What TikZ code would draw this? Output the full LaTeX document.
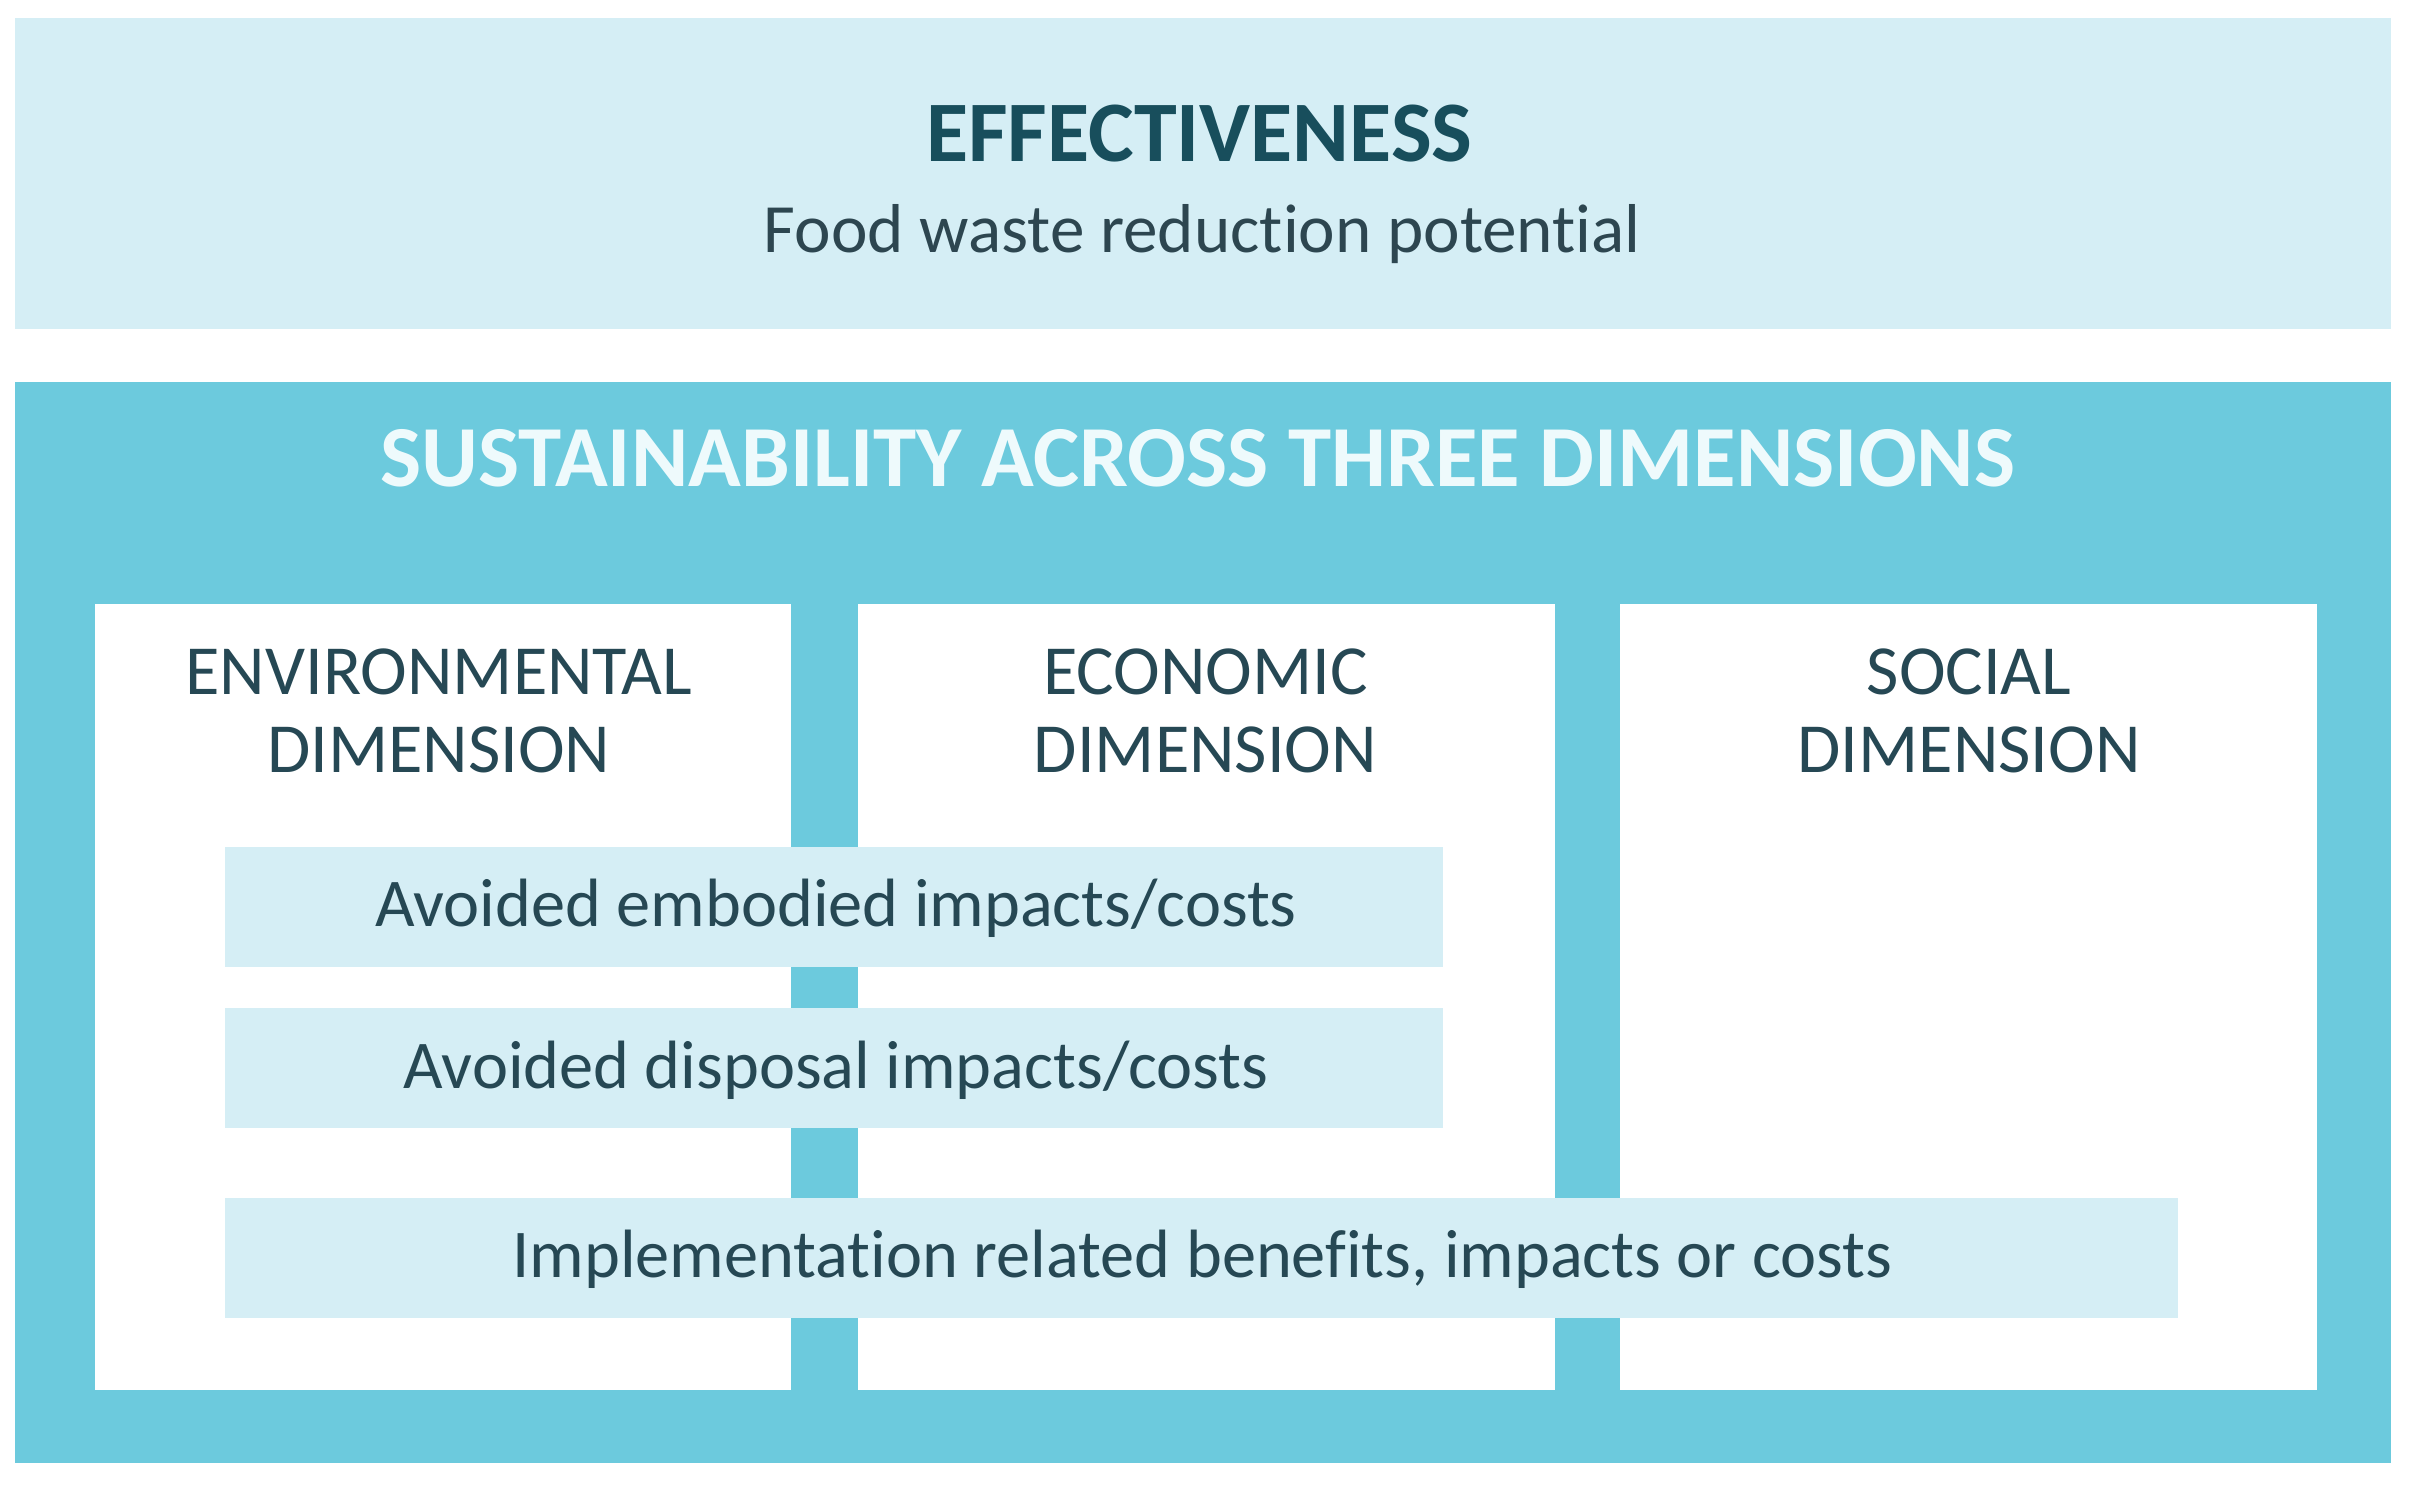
\documentclass[tikz,border=0pt]{standalone}
\usepackage{fontspec}
\setmainfont{Carlito}[Ligatures=NoCommon]
\begin{document}
\begin{tikzpicture}[x=0.75pt,y=0.75pt,yscale=-1,xscale=1,
  pale/.style={fill={rgb, 255:red, 213; green, 238; blue, 245 }},
  dimtext/.style={anchor=center,inner sep=0.75pt,align=center,font=\fontsize{34.3}{38}\selectfont,color={rgb, 255:red, 38; green, 72; blue, 84 }},
  boxtext/.style={anchor=center,inner sep=0.75pt,font=\fontsize{33.3}{38}\selectfont,color={rgb, 255:red, 38; green, 72; blue, 84 }}]
\useasboundingbox (0,0) rectangle (1568,968);

%Shape: Rectangle [id:top]
\fill [pale] (10,12) rectangle (1553,214) ;
%Shape: Rectangle [id:outer]
\fill [color={rgb, 255:red, 108; green, 202; blue, 221 }] (10,248) rectangle (1553,950) ;
%Shape: Rectangle [id:cols]
\fill [white] (62,392) rectangle (514,903) ;
\fill [white] (557,392) rectangle (1010,903) ;
\fill [white] (1052,392) rectangle (1505,903) ;
%Shape: Rectangle [id:bars]
\fill [pale] (146,550) rectangle (937,628) ;
\fill [pale] (146,655) rectangle (937,733) ;
\fill [pale] (146,778) rectangle (1415,856) ;

% Text Node
\draw (779,105) node [anchor=base][inner sep=0.75pt] [font=\bfseries\fontsize{42}{50}\selectfont,color={rgb, 255:red, 24; green, 78; blue, 92 }] (effect) {EFFECTIVENESS};
% Text Node
\draw (781,164) node [anchor=base][inner sep=0.75pt] [font=\fontsize{33.7}{38}\selectfont,color={rgb, 255:red, 45; green, 70; blue, 80 }] (potential) {Food waste reduction potential};
% Text Node
\draw (778,316) node [anchor=base][inner sep=0.75pt] [font=\bfseries\fontsize{42.4}{50}\selectfont,color={rgb, 255:red, 238; green, 250; blue, 252 }] (sustain) {SUSTAINABILITY ACROSS THREE DIMENSIONS};
% Text Node
\draw (285,462) node [dimtext] (env) {ENVIRONMENTAL\\DIMENSION};
% Text Node
\draw (783,462) node [dimtext] (eco) {ECONOMIC\\DIMENSION};
% Text Node
\draw (1279,462) node [dimtext] (soc) {SOCIAL\\DIMENSION};
% Text Node
\draw (543,590) node [boxtext] (embodied) {Avoided embodied impacts/costs};
% Text Node
\draw (543,695) node [boxtext] (disposal) {Avoided disposal impacts/costs};
% Text Node
\draw (781,818) node [boxtext] (implement) {Implementation related benefits, impacts or costs};

\end{tikzpicture}
\end{document}
